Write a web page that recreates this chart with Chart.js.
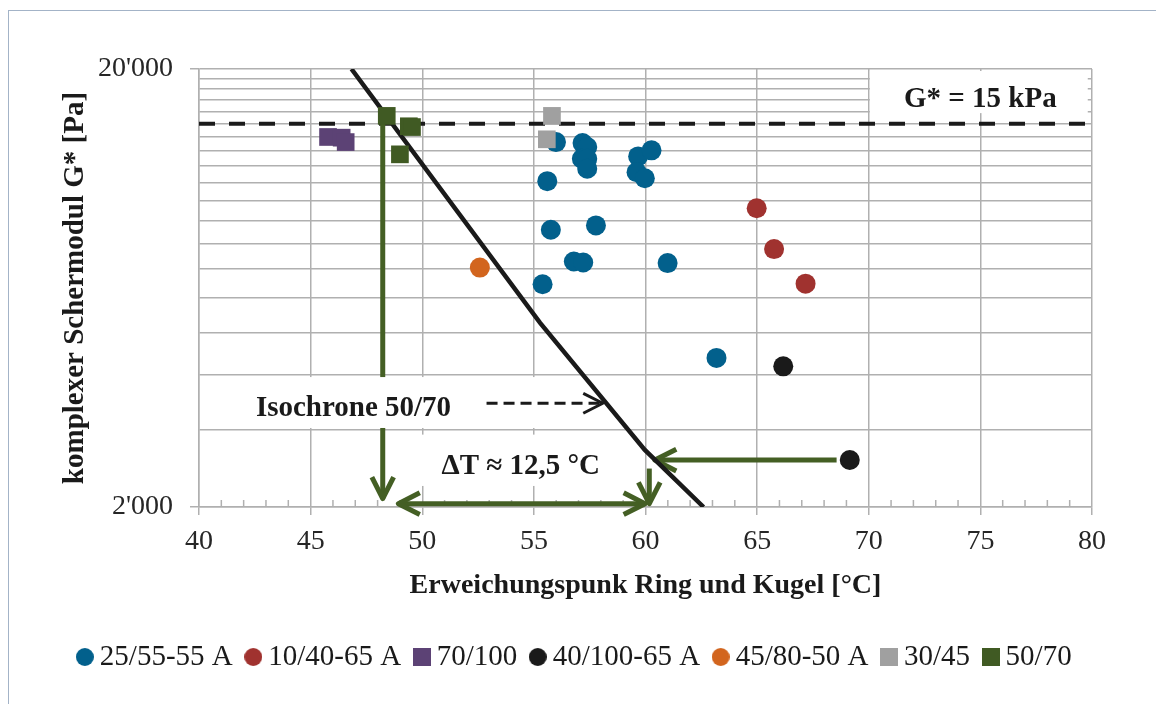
<!DOCTYPE html>
<html>
<head>
<meta charset="utf-8">
<script src="https://cdn.jsdelivr.net/npm/chart.js@4.4.1/dist/chart.umd.min.js"></script>
<style>
  html, body { margin: 0; padding: 0; background: #fff; overflow: hidden; }
  #frame { position: absolute; left: 8px; top: 10px; width: 1200px; height: 800px; border: 1px solid #a3b3c7; }
  #chart { position: absolute; left: 0; top: 0; }
</style>
</head>
<body>
<div id="frame"></div>
<canvas id="chart" width="1156" height="704"></canvas>
<script>
// Erweichungspunkt RuK [°C] und komplexer Schermodul G* [Pa] je Sorte
const seriesNames = ['25/55-55 A', '10/40-65 A', '70/100', '40/100-65 A', '45/80-50 A', '30/45', '50/70'];

const t25_55 = [55.99, 57.18, 57.39, 57.15, 57.39, 57.39, 59.67, 60.27, 59.60, 59.97, 55.60, 55.76, 57.78, 56.79, 57.21, 55.39, 60.99, 63.18];
const g25_55 = [13620, 13550, 13270, 12480, 12480, 11840, 12630, 13040, 11630, 11260, 11090, 8590, 8790, 7270, 7230, 6450, 7210, 4380];
const t10_40 = [64.98, 65.76, 67.17];
const g10_40 = [9620, 7760, 6470];
const t70_100 = [45.78, 46.39, 46.57];
const g70_100 = [13990, 13940, 13620];
const t40_100 = [66.17, 69.15];
const g40_100 = [4190, 2560];
const t45_80 = [52.58];
const g45_80 = [7040];
const t30_45 = [55.81, 55.58];
const g30_45 = [15630, 13820];
const t50_70 = [48.41, 49.40, 49.54, 49.00];
const g50_70 = [15630, 14800, 14740, 12770];

// Isochrone 50/70
const isoT = [46.83, 55.27, 59.97, 62.6];
const isoG = [20000, 5270, 2700, 2000];

// Grenzwert G* = 15 kPa
const gLimit = 15000;

const yTicks = [2000, 3000, 4000, 5000, 6000, 7000, 8000, 9000, 10000, 11000, 12000, 13000, 14000, 15000, 16000, 17000, 18000, 19000, 20000];
const yTickLabels = { 2000: "2'000", 20000: "20'000" };

// Pfeile und Beschriftungen (in Achsenwerten)
const arrows = [
  { from: [48.23, 15600], to: [48.23, 2090], both: false },
  { from: [48.93, 2035], to: [59.98, 2035], both: true },
  { from: [60.17, 2448], to: [60.17, 2035], both: false },
  { from: [68.56, 2560], to: [60.42, 2560], both: false },
];
const isoPointer = { from: [52.88, 3450], to: [58.09, 3450] };
const notes = [
  { text: 'G* = 15 kPa', at: [75.0, 16390], box: [70.05, 19790, 79.81, 15860] },
  { text: 'Isochrone 50/70', at: [46.92, 3230], box: [40.18, 3960, 56.84, 3030] },
  { text: 'ΔT ≈ 12,5 °C', at: [54.41, 2384], box: [49.0, 2926, 59.3, 2234] },
];

const seriesT = [t25_55, t10_40, t70_100, t40_100, t45_80, t30_45, t50_70];
const seriesG = [g25_55, g10_40, g70_100, g40_100, g45_80, g30_45, g50_70];
const colors = ['#02608c', '#a0322f', '#5c4275', '#1a1a1a', '#d2651e', '#a0a0a0', '#405a23'];
const shapes = ['circle', 'circle', 'rect', 'circle', 'circle', 'rect', 'rect'];
const gridColor = '#b0b0b0';
const arrowGreen = '#445f24';
const ink = '#1a1a1a';

Chart.defaults.font.family = '"Liberation Serif", "Times New Roman", serif';

function legendMark(color, shape) {
  const c = document.createElement('canvas');
  c.width = 18; c.height = 18;
  const g = c.getContext('2d');
  g.fillStyle = color;
  if (shape === 'rect') g.fillRect(0, 0, 18, 18);
  else { g.beginPath(); g.arc(9, 9, 9, 0, Math.PI * 2); g.fill(); }
  return c;
}
const legendMarks = colors.map((c, i) => legendMark(c, shapes[i]));

function drawArrow(ctx, x1, y1, x2, y2, color, width, both, wing, dash) {
  const head = (tx, ty, ang) => {
    ctx.beginPath();
    ctx.moveTo(tx - wing * Math.cos(ang - 0.47), ty - wing * Math.sin(ang - 0.47));
    ctx.lineTo(tx, ty);
    ctx.lineTo(tx - wing * Math.cos(ang + 0.47), ty - wing * Math.sin(ang + 0.47));
    ctx.stroke();
  };
  ctx.strokeStyle = color;
  ctx.lineWidth = width;
  ctx.lineJoin = 'round';
  ctx.lineCap = 'butt';
  ctx.setLineDash(dash || []);
  ctx.beginPath(); ctx.moveTo(x1, y1); ctx.lineTo(x2, y2); ctx.stroke();
  ctx.setLineDash([]);
  const ang = Math.atan2(y2 - y1, x2 - x1);
  head(x2, y2, ang);
  if (both) head(x1, y1, ang + Math.PI);
}

const annotations = {
  id: 'annotations',
  beforeDatasetsDraw(chart) {
    const { ctx, chartArea: a, scales: { x, y } } = chart;
    const px = v => x.getPixelForValue(v);
    const py = v => y.getPixelForValue(v);
    ctx.save();
    // Hilfsstriche x-Achse
    ctx.strokeStyle = gridColor;
    ctx.lineWidth = 1.5;
    for (let t = 41; t < 80; t++) {
      if (t % 5 === 0) continue;
      ctx.beginPath(); ctx.moveTo(px(t), a.bottom); ctx.lineTo(px(t), a.bottom - 7); ctx.stroke();
    }
    // G* = 15 kPa
    ctx.strokeStyle = ink;
    ctx.lineWidth = 4;
    ctx.setLineDash([16, 14]);
    ctx.beginPath(); ctx.moveTo(a.left, py(gLimit)); ctx.lineTo(a.right, py(gLimit)); ctx.stroke();
    ctx.setLineDash([]);
    arrows.forEach(ar => drawArrow(ctx, px(ar.from[0]), py(ar.from[1]), px(ar.to[0]), py(ar.to[1]), arrowGreen, 5, ar.both, 24));
    ctx.font = 'bold 29px "Liberation Serif"';
    ctx.textAlign = 'center';
    ctx.textBaseline = 'alphabetic';
    notes.forEach(n => {
      const [x0, y0, x1, y1] = n.box;
      ctx.fillStyle = '#fff';
      ctx.fillRect(px(x0), py(y0), px(x1) - px(x0), py(y1) - py(y0));
      ctx.fillStyle = ink;
      ctx.fillText(n.text, px(n.at[0]), py(n.at[1]));
    });
    drawArrow(ctx, px(isoPointer.from[0]), py(isoPointer.from[1]), px(isoPointer.to[0]), py(isoPointer.to[1]), ink, 3, false, 22, [11, 6]);
    ctx.restore();
  }
};

const datasets = seriesNames.map((name, i) => ({
  label: name,
  data: seriesT[i].map((t, k) => ({ x: t, y: seriesG[i][k] })),
  pointStyle: shapes[i],
  pointRadius: shapes[i] === 'rect' ? 12.5 : 10,
  pointHoverRadius: shapes[i] === 'rect' ? 12.5 : 10,
  pointBackgroundColor: colors[i],
  pointBorderWidth: 0,
  backgroundColor: colors[i],
  borderColor: colors[i],
  order: 7 - i
}));
datasets.push({
  label: 'Isochrone 50/70',
  data: isoT.map((t, k) => ({ x: t, y: isoG[k] })),
  showLine: true,
  borderColor: ink,
  borderWidth: 4.5,
  pointRadius: 0,
  fill: false,
  order: 10
});

new Chart(document.getElementById('chart'), {
  type: 'scatter',
  data: { datasets },
  options: {
    responsive: false,
    animation: false,
    events: [],
    layout: { padding: { left: 0, right: 0, top: 69, bottom: 22.5 } },
    scales: {
      x: {
        type: 'linear', min: 40, max: 80,
        ticks: { stepSize: 5, font: { size: 28 }, color: '#262626', padding: 10 },
        grid: { color: gridColor, lineWidth: 1.5, tickLength: 8, tickColor: gridColor },
        border: { color: gridColor, width: 1.5 },
        title: { display: true, text: 'Erweichungspunk Ring und Kugel [°C]', font: { size: 28, weight: 'bold' }, color: ink, padding: { top: 0, bottom: 20 } },
        afterFit(s) { s.height = 115.5; }
      },
      y: {
        type: 'logarithmic', min: 2000, max: 20000,
        afterBuildTicks(s) { s.ticks = yTicks.map(v => ({ value: v })); },
        ticks: { callback: v => yTickLabels[v] || '', autoSkip: false, font: { size: 28 }, color: '#262626', padding: 17 },
        grid: { color: gridColor, lineWidth: 1.5, tickLength: 9, tickColor: c => (c.tick && yTickLabels[c.tick.value]) ? gridColor : 'rgba(0,0,0,0)' },
        border: { color: gridColor, width: 1.5 },
        title: { display: true, text: 'komplexer Schermodul G* [Pa]', font: { size: 29, weight: 'bold' }, color: ink, padding: { top: 58, bottom: 0 } },
        afterFit(s) { s.width = 199; }
      },
      yRight: {
        type: 'linear', position: 'right', display: true,
        grid: { display: false, drawTicks: false },
        border: { display: false },
        ticks: { display: false },
        afterFit(s) { s.width = 64; }
      }
    },
    plugins: {
      tooltip: { enabled: false },
      legend: {
        position: 'bottom',
        labels: {
          usePointStyle: true,
          boxWidth: 1,
          boxHeight: 18,
          padding: 20,
          font: { size: 29 },
          color: ink,
          sort: (a, b) => a.datasetIndex - b.datasetIndex,
          generateLabels(chart) {
            return Chart.defaults.plugins.legend.labels.generateLabels(chart)
              .filter(l => l.datasetIndex < seriesNames.length)
              .map(l => Object.assign(l, { pointStyle: legendMarks[l.datasetIndex] }));
          }
        }
      }
    }
  },
  plugins: [annotations]
});
</script>
</body>
</html>
